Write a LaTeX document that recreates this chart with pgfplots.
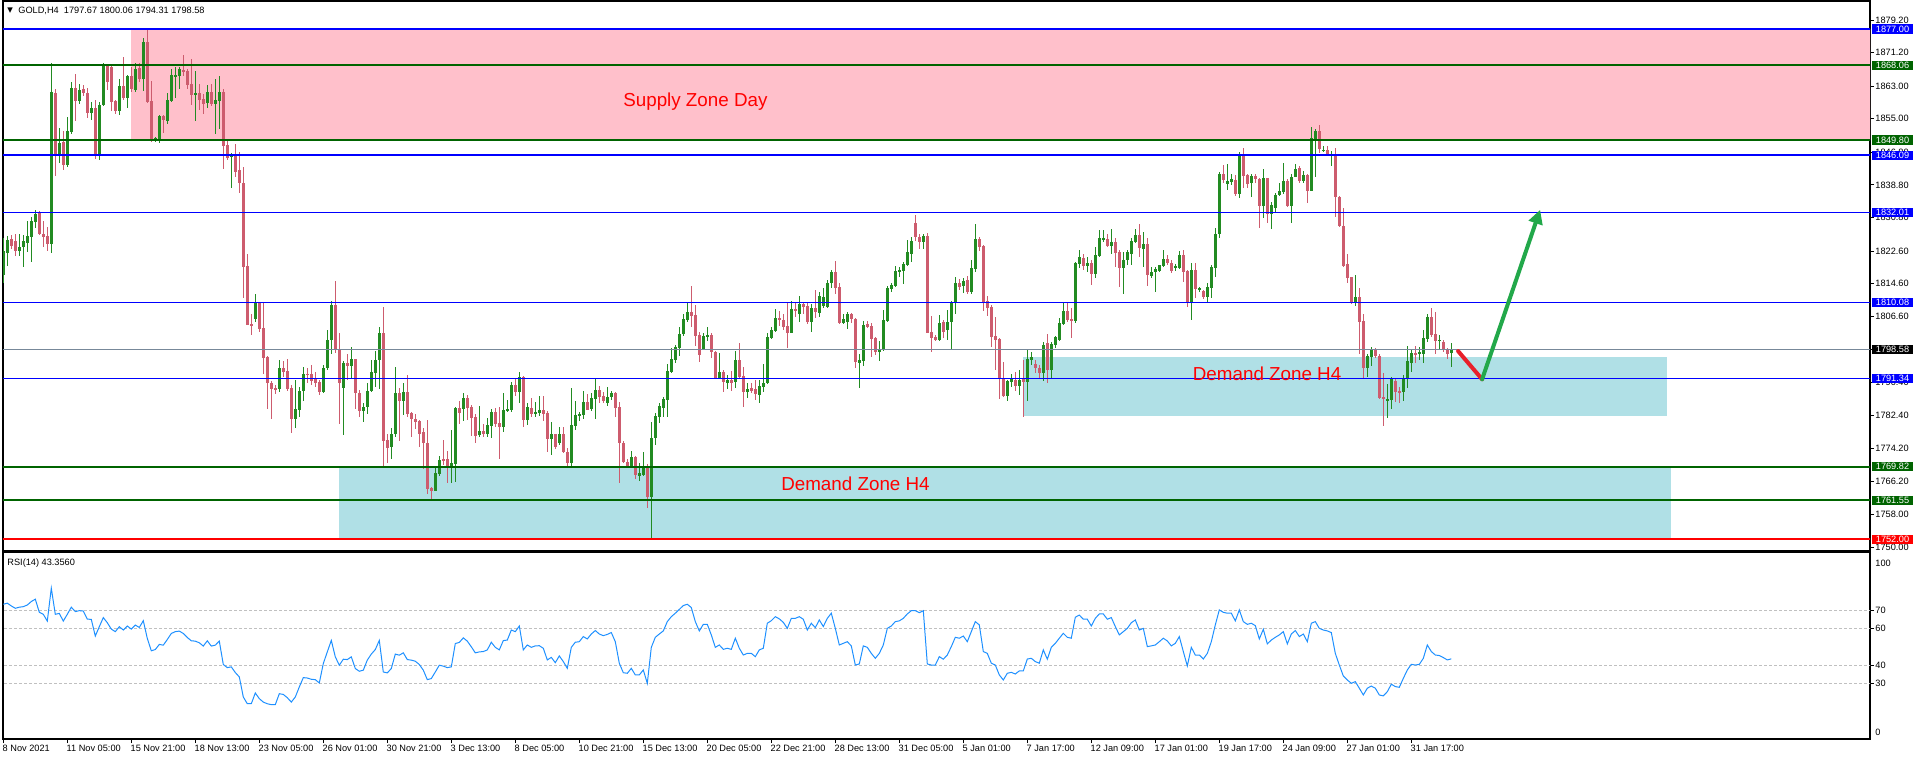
\documentclass[border=0pt]{standalone}
\usepackage{pgfplots}
\pgfplotsset{compat=1.18}
\usepackage{pgfplotstable}
\usetikzlibrary{arrows.meta}
\usepackage{fontspec}
\setmainfont{Liberation Sans}
\newfontfamily\dejavu{DejaVu Sans}
\definecolor{cgreen}{HTML}{228B22}
\definecolor{cred}{HTML}{CD5C6E}
\definecolor{zpink}{HTML}{FFC0CB}
\definecolor{zblue}{HTML}{B0E0E6}
\definecolor{lgreen}{HTML}{006400}
\definecolor{lblue}{HTML}{0000FF}
\definecolor{bidgray}{HTML}{778899}
\definecolor{rsiblue}{HTML}{1E90FF}
\definecolor{lvlgray}{HTML}{C0C0C0}
\definecolor{arrred}{HTML}{E8202A}
\definecolor{arrgreen}{HTML}{22A84A}
\newcommand{\smallfont}{\fontsize{4.6pt}{5pt}\selectfont}
\newcommand{\zonefont}{\fontsize{9.4pt}{10pt}\selectfont}
\newcommand{\pbox}[2]{\node[fill=#1, text=white, font=\smallfont, anchor=west, inner sep=0pt, minimum width=20.5pt, minimum height=4.6pt, xshift=0.8pt] at (axis cs:466.675,#2) {#2};}

\pgfplotstableread{
i o h l c r
0 1816.7 1825.7 1814.7 1822.5 73.3
1 1822.2 1826.3 1818.9 1825.3 73.9
2 1825.6 1826.5 1823.0 1823.8 72.4
3 1825.1 1826.9 1821.5 1822.7 71.1
4 1822.7 1826.9 1821.5 1823.6 71.7
5 1823.6 1826.5 1818.8 1825.1 72.0
6 1824.7 1830.1 1822.3 1826.3 72.9
7 1826.1 1831.0 1820.0 1830.0 74.8
8 1829.8 1832.7 1828.3 1831.8 76.1
9 1832.2 1832.4 1826.5 1826.9 68.9
10 1826.9 1830.1 1823.7 1826.1 67.8
11 1826.3 1828.6 1822.7 1824.4 64.1
12 1824.4 1868.7 1822.2 1861.6 82.1
13 1861.3 1862.2 1841.1 1846.5 67.8
14 1846.5 1852.7 1844.1 1849.1 68.3
15 1849.4 1852.1 1842.5 1843.7 64.1
16 1843.7 1855.4 1843.3 1852.0 67.8
17 1851.8 1864.0 1851.3 1862.5 71.7
18 1862.5 1866.0 1854.5 1859.4 69.3
19 1859.4 1863.5 1858.6 1862.1 69.8
20 1862.2 1863.2 1860.7 1861.2 69.6
21 1861.3 1862.5 1855.1 1856.5 65.2
22 1856.5 1859.2 1854.7 1857.6 65.0
23 1857.6 1859.6 1845.2 1846.1 55.9
24 1846.1 1859.1 1844.9 1858.4 61.0
25 1858.4 1868.6 1858.1 1868.0 66.0
26 1868.0 1868.4 1862.1 1864.1 63.2
27 1867.8 1868.0 1857.0 1859.2 59.7
28 1859.4 1859.6 1856.2 1857.0 58.3
29 1857.0 1864.7 1855.9 1863.0 61.0
30 1863.0 1870.2 1859.6 1860.1 59.2
31 1860.1 1865.7 1857.7 1865.5 61.4
32 1865.5 1867.8 1861.6 1862.4 59.7
33 1862.1 1868.7 1861.6 1867.2 61.9
34 1867.5 1868.6 1864.0 1864.7 60.6
35 1864.7 1874.7 1861.9 1873.8 64.3
36 1873.8 1877.0 1858.9 1859.2 54.6
37 1859.4 1864.3 1849.3 1850.0 47.8
38 1850.0 1850.6 1849.3 1850.4 48.5
39 1850.0 1856.0 1849.1 1855.7 51.3
40 1855.7 1856.0 1851.6 1854.7 50.9
41 1854.5 1861.3 1853.7 1859.6 54.0
42 1859.4 1867.2 1859.2 1865.7 57.3
43 1865.5 1867.8 1860.1 1865.7 58.3
44 1865.6 1867.8 1862.3 1867.2 58.6
45 1867.0 1870.6 1865.6 1866.5 57.3
46 1866.8 1867.1 1862.3 1863.3 55.1
47 1863.5 1869.6 1858.4 1860.8 53.3
48 1860.8 1866.7 1854.5 1861.3 53.1
49 1861.3 1863.5 1857.2 1859.6 52.2
50 1859.8 1861.1 1856.2 1858.6 50.4
51 1858.8 1863.3 1857.7 1861.6 53.3
52 1861.6 1863.5 1858.2 1858.6 50.4
53 1858.6 1864.7 1851.4 1859.6 50.9
54 1859.4 1865.5 1852.4 1861.6 53.1
55 1861.6 1862.3 1842.7 1848.4 40.3
56 1848.6 1849.6 1844.9 1845.5 38.6
57 1845.6 1846.7 1838.1 1846.1 39.0
58 1846.1 1848.8 1840.8 1842.0 35.9
59 1842.5 1846.8 1836.9 1839.3 33.5
60 1839.4 1843.2 1811.2 1818.8 22.5
61 1818.9 1821.8 1804.4 1804.6 18.8
62 1804.7 1807.3 1802.0 1804.3 18.8
63 1806.0 1812.2 1805.3 1809.8 24.7
64 1809.8 1810.0 1802.9 1803.6 21.6
65 1803.8 1809.8 1792.4 1796.5 19.7
66 1796.7 1797.0 1784.0 1790.2 18.8
67 1790.4 1790.9 1781.5 1788.8 18.3
68 1789.1 1789.8 1787.5 1788.6 18.3
69 1788.8 1795.9 1788.2 1793.9 24.3
70 1793.9 1795.8 1791.7 1793.1 23.9
71 1793.2 1796.2 1788.3 1788.8 22.1
72 1789.1 1789.8 1778.1 1781.5 19.7
73 1781.4 1791.0 1779.3 1784.0 22.5
74 1783.8 1789.4 1782.0 1788.4 28.0
75 1788.4 1794.3 1785.9 1792.6 33.1
76 1792.6 1793.9 1790.2 1792.2 32.9
77 1792.4 1794.7 1789.9 1790.9 32.2
78 1791.2 1792.9 1789.3 1790.4 32.0
79 1790.5 1791.0 1787.4 1788.2 30.2
80 1788.2 1794.7 1787.8 1793.9 40.8
81 1793.9 1803.3 1793.5 1800.8 47.2
82 1800.7 1810.4 1797.3 1809.5 53.5
83 1809.5 1815.3 1797.7 1798.4 44.5
84 1798.4 1802.6 1780.2 1790.4 39.9
85 1789.0 1795.8 1777.6 1795.1 43.2
86 1795.3 1797.3 1791.0 1794.5 43.0
87 1794.5 1799.2 1791.5 1796.2 44.5
88 1796.2 1796.2 1784.0 1787.8 38.1
89 1787.9 1788.6 1782.0 1783.5 36.6
90 1783.5 1785.3 1780.8 1784.5 37.2
91 1784.3 1790.2 1782.6 1788.4 42.7
92 1788.4 1795.9 1788.2 1793.1 46.0
93 1792.8 1798.1 1789.4 1795.9 48.5
94 1795.9 1804.1 1788.8 1802.5 53.5
95 1802.5 1808.8 1770.0 1776.2 36.2
96 1776.3 1777.9 1770.6 1774.4 35.7
97 1774.7 1779.3 1771.8 1777.9 38.1
98 1777.7 1794.3 1777.1 1787.9 46.0
99 1787.9 1789.1 1776.2 1785.9 45.4
100 1785.9 1790.4 1782.4 1788.2 46.7
101 1788.2 1792.2 1781.9 1782.6 43.0
102 1782.9 1783.3 1777.0 1781.5 42.7
103 1781.5 1782.6 1778.9 1780.8 42.1
104 1781.0 1781.2 1774.7 1777.9 40.3
105 1778.2 1779.3 1769.2 1775.7 37.2
106 1775.7 1781.2 1763.0 1764.3 32.0
107 1764.6 1764.9 1761.6 1763.8 32.6
108 1763.9 1769.4 1763.8 1768.2 36.2
109 1768.0 1772.4 1767.5 1771.4 39.9
110 1771.7 1776.3 1770.2 1771.2 39.4
111 1771.7 1773.7 1765.9 1770.0 38.6
112 1770.0 1778.8 1765.7 1770.6 39.0
113 1770.4 1784.5 1766.1 1784.1 51.8
114 1784.1 1785.9 1780.2 1782.9 52.4
115 1783.8 1787.8 1781.0 1786.7 54.9
116 1786.7 1787.3 1781.2 1784.1 53.1
117 1784.5 1784.9 1777.4 1781.8 50.0
118 1782.0 1782.6 1775.5 1777.4 46.7
119 1777.5 1784.7 1777.1 1778.5 47.2
120 1778.5 1780.2 1777.1 1777.9 47.4
121 1777.9 1781.8 1777.1 1780.0 48.3
122 1779.8 1783.9 1776.9 1783.1 52.5
123 1783.3 1784.1 1779.4 1780.2 49.7
124 1780.4 1784.5 1771.6 1779.4 48.3
125 1779.4 1787.8 1778.4 1783.7 53.4
126 1783.5 1786.1 1783.3 1783.9 53.7
127 1783.7 1790.6 1783.2 1789.8 59.2
128 1789.8 1791.2 1787.1 1788.2 58.3
129 1788.2 1793.1 1785.3 1791.8 61.4
130 1791.8 1792.0 1779.4 1781.2 48.3
131 1781.2 1785.5 1780.0 1784.5 51.0
132 1784.2 1786.7 1782.0 1782.6 49.7
133 1782.6 1785.7 1782.0 1783.3 50.5
134 1782.9 1787.2 1782.3 1783.7 50.6
135 1783.7 1787.2 1781.1 1782.6 49.2
136 1782.9 1783.5 1773.5 1776.6 42.8
137 1776.6 1780.8 1772.6 1777.8 44.2
138 1777.8 1777.9 1774.1 1774.7 41.3
139 1775.5 1779.6 1775.1 1777.8 45.0
140 1777.8 1779.6 1773.1 1773.3 41.9
141 1773.5 1774.3 1769.9 1770.6 38.2
142 1770.6 1789.0 1770.0 1780.0 49.7
143 1779.8 1786.0 1778.9 1782.4 52.5
144 1782.4 1783.3 1781.1 1782.6 52.8
145 1782.4 1788.4 1781.4 1785.7 55.6
146 1785.7 1787.5 1783.7 1783.8 54.3
147 1783.8 1787.8 1783.5 1786.7 57.0
148 1786.5 1791.4 1781.5 1788.6 58.9
149 1788.6 1789.6 1785.3 1786.9 57.0
150 1787.1 1788.1 1785.3 1786.0 56.1
151 1785.5 1789.2 1784.7 1786.9 56.8
152 1786.8 1788.4 1786.1 1787.9 57.8
153 1787.9 1788.2 1781.9 1784.2 52.8
154 1784.5 1785.7 1765.9 1775.5 41.0
155 1775.7 1776.2 1770.6 1770.9 35.8
156 1771.0 1771.6 1769.8 1770.0 35.5
157 1770.0 1773.6 1769.8 1772.2 38.2
158 1772.2 1772.4 1766.9 1767.7 34.6
159 1767.6 1770.6 1766.3 1768.2 34.6
160 1767.7 1773.3 1767.5 1769.8 37.3
161 1769.8 1770.4 1759.8 1762.4 30.0
162 1762.4 1780.8 1752.0 1776.7 49.7
163 1776.7 1782.9 1775.1 1782.2 55.2
164 1782.0 1785.3 1780.6 1784.6 57.0
165 1784.2 1786.9 1782.0 1786.4 58.7
166 1786.1 1794.9 1782.0 1793.2 63.8
167 1793.1 1798.9 1792.7 1796.2 66.5
168 1795.9 1799.6 1795.1 1799.2 68.4
169 1798.8 1804.1 1796.9 1802.3 70.5
170 1802.2 1807.1 1801.9 1806.0 72.6
171 1805.7 1809.8 1805.3 1807.6 73.3
172 1807.6 1814.1 1803.9 1806.8 71.5
173 1806.9 1809.4 1799.4 1801.9 63.8
174 1802.0 1802.7 1795.5 1797.1 58.7
175 1798.6 1802.5 1798.4 1801.8 62.3
176 1801.6 1804.1 1800.6 1802.0 62.3
177 1802.0 1802.5 1796.3 1797.8 56.5
178 1797.9 1798.1 1791.3 1791.6 49.7
179 1791.6 1797.7 1791.4 1792.9 51.0
180 1792.9 1793.5 1788.0 1790.6 48.6
181 1790.4 1792.2 1788.8 1791.0 49.2
182 1791.0 1793.3 1788.4 1790.4 48.6
183 1790.6 1798.1 1789.0 1795.9 54.7
184 1795.9 1800.2 1791.4 1791.8 49.2
185 1792.0 1794.3 1784.5 1788.2 45.5
186 1788.0 1790.2 1786.7 1788.8 46.4
187 1789.0 1790.2 1787.8 1788.4 46.4
188 1788.8 1791.0 1786.1 1787.5 44.6
189 1787.3 1791.0 1785.5 1789.5 48.3
190 1789.4 1794.9 1788.2 1790.2 49.2
191 1790.2 1802.5 1790.0 1801.5 62.9
192 1801.4 1804.1 1801.1 1803.3 64.3
193 1803.1 1808.3 1802.7 1806.3 66.5
194 1806.3 1807.9 1804.3 1805.7 65.3
195 1805.7 1807.3 1803.3 1804.1 63.4
196 1804.3 1809.8 1798.8 1802.6 60.1
197 1802.6 1810.4 1802.5 1808.4 65.6
198 1808.4 1809.8 1806.5 1808.2 65.6
199 1807.3 1811.6 1805.3 1809.6 66.5
200 1809.6 1810.2 1807.3 1809.0 65.1
201 1809.1 1810.0 1804.7 1805.3 59.2
202 1805.3 1809.6 1802.9 1808.6 62.9
203 1808.6 1813.2 1806.3 1807.6 60.5
204 1807.5 1812.7 1806.5 1811.6 64.7
205 1809.2 1813.5 1808.7 1811.4 61.1
206 1809.0 1815.5 1808.6 1814.9 65.6
207 1814.7 1818.0 1813.5 1817.6 68.4
208 1817.4 1820.2 1812.0 1813.6 60.1
209 1813.7 1814.9 1804.7 1805.1 51.0
210 1805.1 1807.2 1804.7 1806.0 51.9
211 1805.3 1807.6 1803.4 1807.2 52.8
212 1807.2 1807.5 1805.1 1805.9 50.5
213 1806.0 1806.1 1794.0 1795.5 40.0
214 1795.3 1797.5 1789.1 1795.9 40.6
215 1795.8 1805.5 1794.5 1804.5 50.5
216 1804.7 1805.5 1803.7 1804.1 49.7
217 1804.2 1805.1 1796.7 1801.1 46.4
218 1801.2 1801.6 1797.1 1797.9 43.7
219 1797.9 1800.6 1795.8 1798.5 46.4
220 1798.5 1808.3 1798.2 1805.7 51.0
221 1805.5 1814.1 1805.3 1813.6 60.1
222 1813.3 1814.9 1812.7 1814.3 61.4
223 1814.0 1818.9 1813.9 1817.8 63.8
224 1817.6 1818.8 1816.2 1818.0 64.2
225 1817.8 1820.0 1814.5 1819.4 65.6
226 1819.2 1825.3 1819.0 1822.3 68.0
227 1822.0 1826.0 1820.0 1825.1 69.8
228 1829.6 1831.4 1825.1 1826.0 69.8
229 1826.1 1826.9 1823.1 1824.9 68.7
230 1824.9 1826.9 1823.0 1826.3 69.8
231 1826.3 1827.1 1802.5 1802.5 40.6
232 1802.7 1806.8 1797.9 1801.4 40.0
233 1801.6 1802.0 1800.6 1800.8 40.0
234 1800.8 1806.9 1800.7 1805.1 44.6
235 1805.3 1805.7 1801.2 1802.9 43.2
236 1803.3 1808.2 1800.8 1805.3 45.5
237 1805.3 1810.4 1798.4 1809.8 50.1
238 1810.2 1816.2 1807.3 1814.9 55.2
239 1814.9 1815.7 1813.2 1813.9 54.7
240 1814.0 1816.1 1812.4 1815.3 55.9
241 1815.5 1816.5 1812.2 1812.5 52.8
242 1812.5 1820.4 1812.2 1818.4 58.3
243 1818.1 1829.2 1817.4 1825.5 63.8
244 1825.5 1826.1 1822.5 1823.7 62.0
245 1823.9 1824.2 1808.0 1809.8 47.4
246 1810.4 1811.7 1806.7 1808.7 46.4
247 1809.0 1809.4 1799.2 1801.6 41.0
248 1801.8 1806.5 1793.5 1800.8 40.0
249 1801.1 1801.2 1786.4 1791.3 34.6
250 1791.4 1795.5 1786.9 1787.1 31.8
251 1787.2 1791.0 1786.0 1790.8 35.5
252 1790.6 1792.4 1789.4 1791.4 36.0
253 1791.0 1793.1 1788.4 1789.6 35.1
254 1789.6 1793.6 1787.3 1791.0 36.8
255 1791.2 1795.9 1782.0 1790.6 36.8
256 1790.6 1798.6 1786.0 1796.2 43.3
257 1795.9 1797.9 1794.7 1796.6 43.7
258 1794.9 1795.9 1792.7 1793.9 41.9
259 1793.9 1794.7 1791.2 1792.8 41.0
260 1792.8 1800.4 1790.8 1799.6 48.3
261 1800.0 1802.3 1790.2 1793.5 43.2
262 1793.5 1800.4 1791.3 1799.8 49.7
263 1799.6 1801.9 1798.8 1801.5 51.9
264 1800.8 1806.1 1800.7 1804.9 54.7
265 1804.7 1809.8 1804.5 1807.9 57.4
266 1807.9 1810.0 1805.3 1805.7 55.2
267 1805.9 1808.6 1801.4 1805.5 54.7
268 1805.5 1820.0 1804.9 1819.6 66.2
269 1819.4 1822.9 1818.4 1821.1 67.4
270 1821.0 1822.0 1818.0 1819.0 65.1
271 1819.0 1821.2 1817.6 1819.8 65.1
272 1819.8 1820.4 1814.3 1817.0 61.4
273 1817.0 1823.7 1815.9 1821.6 65.6
274 1821.5 1827.8 1821.2 1825.7 68.0
275 1825.5 1827.8 1824.9 1825.7 68.0
276 1825.6 1826.9 1823.7 1823.9 65.1
277 1823.9 1827.9 1822.0 1824.9 66.0
278 1824.9 1825.7 1818.6 1822.2 61.1
279 1822.3 1822.9 1813.9 1818.4 56.5
280 1818.4 1822.5 1812.2 1820.4 58.3
281 1820.4 1822.9 1819.2 1822.3 60.1
282 1822.0 1825.7 1819.2 1825.1 63.2
283 1824.9 1827.9 1824.7 1826.5 64.7
284 1826.5 1829.2 1821.1 1823.3 59.2
285 1823.1 1827.4 1818.8 1824.3 60.1
286 1824.3 1825.7 1814.1 1816.7 50.1
287 1816.6 1818.6 1815.9 1817.6 50.5
288 1817.4 1818.8 1812.7 1818.1 51.0
289 1817.8 1819.2 1817.6 1819.2 52.8
290 1818.9 1822.9 1818.8 1820.6 54.7
291 1820.6 1821.6 1819.2 1819.8 53.2
292 1819.8 1820.4 1817.3 1817.8 50.5
293 1818.4 1819.4 1817.8 1819.0 51.9
294 1818.4 1822.5 1818.1 1821.6 55.6
295 1821.6 1822.9 1815.1 1817.6 47.4
296 1817.7 1818.0 1808.8 1809.8 39.5
297 1809.8 1819.8 1805.6 1818.0 49.7
298 1818.0 1819.8 1811.0 1813.2 45.5
299 1813.2 1813.9 1812.7 1813.5 45.5
300 1812.9 1813.1 1810.9 1811.3 43.3
301 1811.4 1814.7 1809.8 1813.9 46.4
302 1813.6 1819.2 1811.0 1818.6 52.8
303 1818.5 1828.2 1816.3 1826.9 62.0
304 1826.8 1842.0 1825.7 1841.6 70.2
305 1841.6 1843.7 1839.2 1840.0 68.9
306 1839.0 1843.9 1837.6 1839.8 68.4
307 1839.6 1841.6 1838.8 1840.3 68.4
308 1840.0 1841.2 1836.2 1836.7 64.2
309 1836.7 1846.9 1835.7 1846.5 70.2
310 1846.5 1847.8 1838.0 1841.1 63.8
311 1841.2 1841.6 1838.0 1839.0 62.3
312 1839.4 1841.5 1835.9 1841.1 62.9
313 1841.1 1841.5 1839.2 1840.2 61.6
314 1840.3 1840.4 1828.2 1833.7 54.3
315 1833.7 1842.7 1830.6 1840.4 59.6
316 1840.4 1840.6 1829.6 1831.8 51.6
317 1831.8 1834.7 1828.0 1833.9 53.7
318 1833.1 1836.9 1832.0 1836.3 55.2
319 1836.3 1839.2 1836.2 1837.3 56.5
320 1837.2 1844.1 1836.7 1839.8 58.3
321 1839.8 1840.2 1833.5 1833.7 51.6
322 1833.7 1841.5 1829.4 1840.8 57.0
323 1840.8 1843.9 1840.7 1842.7 58.9
324 1843.0 1843.4 1839.4 1839.8 55.6
325 1839.8 1842.2 1839.4 1841.2 57.0
326 1841.2 1841.4 1834.5 1837.4 52.8
327 1837.4 1852.9 1837.2 1850.2 62.9
328 1850.0 1852.5 1840.8 1852.0 63.8
329 1852.0 1853.6 1846.7 1847.6 60.1
330 1847.1 1848.3 1846.9 1847.4 59.2
331 1847.4 1848.4 1846.1 1846.4 58.7
332 1846.1 1847.1 1843.5 1846.5 57.8
333 1846.5 1847.8 1831.0 1835.8 46.4
334 1835.9 1836.1 1828.6 1828.8 40.0
335 1828.8 1833.1 1818.8 1819.0 34.0
336 1819.4 1821.8 1814.7 1816.1 31.8
337 1816.2 1816.3 1809.6 1810.2 30.0
338 1810.2 1816.7 1809.2 1811.4 30.9
339 1811.4 1813.5 1797.3 1805.3 27.3
340 1805.5 1807.3 1791.3 1793.9 23.6
341 1793.9 1797.5 1791.8 1797.0 27.3
342 1796.7 1799.0 1794.5 1798.4 28.5
343 1798.4 1798.8 1796.3 1796.9 27.3
344 1797.0 1797.3 1786.4 1786.5 23.6
345 1786.8 1792.7 1779.8 1786.3 23.1
346 1786.1 1790.0 1781.6 1786.4 25.4
347 1786.1 1791.8 1783.9 1791.2 29.5
348 1790.9 1791.3 1785.7 1788.2 28.2
349 1788.4 1789.2 1785.3 1788.0 27.8
350 1788.2 1792.2 1785.9 1791.4 32.7
351 1791.4 1799.3 1789.1 1795.8 37.3
352 1795.3 1798.6 1792.9 1797.7 40.4
353 1797.7 1799.4 1795.1 1797.1 40.0
354 1797.3 1799.2 1795.9 1797.8 40.4
355 1797.5 1803.3 1795.3 1801.2 43.7
356 1801.0 1807.2 1800.4 1806.5 51.0
357 1806.5 1808.6 1801.6 1802.0 47.4
358 1802.2 1807.6 1797.5 1800.6 45.5
359 1800.7 1802.0 1798.4 1800.8 45.2
360 1800.4 1800.8 1797.9 1798.4 44.1
361 1798.4 1798.9 1796.3 1797.5 42.8
362 1797.7 1800.1 1794.3 1798.6 43.4
}\gold

\begin{document}
\begin{tikzpicture}[x=1pt,y=1pt]
\useasboundingbox (0,0) rectangle (958,380);
\begin{axis}[
  at={(1.5pt,104.5pt)}, anchor=south west,
  width=933.5pt, height=275pt, scale only axis,
  xmin=-0.075, xmax=466.675, ymin=1749.14, ymax=1883.86,
  clip mode=individual,
  axis line style={line width=0.6pt},
  xtick=\empty,
  ytick={1750,1758,1766.2,1774.2,1782.4,1790.4,1798.4,1806.6,1814.6,1822.6,1830.8,1838.8,1846.8,1855,1863,1871.2,1879.2},
  yticklabels={1750.00,1758.00,1766.20,1774.20,1782.40,1790.40,1798.40,1806.60,1814.60,1822.60,1830.80,1838.80,1846.80,1855.00,1863.00,1871.20,1879.20},
  ytick pos=right, yticklabel pos=right,
  tick align=outside, major tick length=2pt,
  tick style={line width=0.5pt, black},
  yticklabel style={font=\smallfont, anchor=west, inner sep=0pt, xshift=0.5pt},
]
% zones
\addplot[fill=zpink, draw=none] coordinates {(31.9,1849.8) (467,1849.8) (467,1877) (31.9,1877)} -- cycle;
\addplot[fill=zblue, draw=none] coordinates {(83.9,1752) (416.8,1752) (416.8,1769.82) (83.9,1769.82)} -- cycle;
\addplot[fill=zblue, draw=none] coordinates {(255.0,1782.2) (415.8,1782.2) (415.8,1796.66) (255.0,1796.66)} -- cycle;
% wicks
\addplot[draw=none, restrict expr to domain={\thisrow{c}-\thisrow{o}}{0:1000},
  error bars/.cd, y dir=both, y explicit, error mark=none,
  error bar style={line width=0.5pt, draw=cgreen}]
  table[x=i, y expr={(\thisrow{h}+\thisrow{l})/2}, y error expr={(\thisrow{h}-\thisrow{l})/2}] {\gold};
\addplot[draw=none, restrict expr to domain={\thisrow{c}-\thisrow{o}}{-1000:-0.001},
  error bars/.cd, y dir=both, y explicit, error mark=none,
  error bar style={line width=0.5pt, draw=cred}]
  table[x=i, y expr={(\thisrow{h}+\thisrow{l})/2}, y error expr={(\thisrow{h}-\thisrow{l})/2}] {\gold};
% bodies
\addplot[draw=none, restrict expr to domain={\thisrow{c}-\thisrow{o}}{0:1000},
  error bars/.cd, y dir=both, y explicit, error mark=none,
  error bar style={line width=1.5pt, draw=cgreen}]
  table[x=i, y expr={(\thisrow{o}+\thisrow{c})/2}, y error expr={max(abs(\thisrow{c}-\thisrow{o})/2,0.12)}] {\gold};
\addplot[draw=none, restrict expr to domain={\thisrow{c}-\thisrow{o}}{-1000:-0.001},
  error bars/.cd, y dir=both, y explicit, error mark=none,
  error bar style={line width=1.5pt, draw=cred}]
  table[x=i, y expr={(\thisrow{o}+\thisrow{c})/2}, y error expr={max(abs(\thisrow{c}-\thisrow{o})/2,0.12)}] {\gold};
% level lines
\addplot[lblue, line width=1pt] coordinates {(-1,1877) (470,1877)};
\addplot[lgreen, line width=1pt] coordinates {(-1,1868.06) (470,1868.06)};
\addplot[lgreen, line width=1pt] coordinates {(-1,1849.80) (470,1849.80)};
\addplot[lblue, line width=1pt] coordinates {(-1,1846.09) (470,1846.09)};
\addplot[lblue, line width=0.5pt] coordinates {(-1,1832.01) (470,1832.01)};
\addplot[lblue, line width=0.5pt] coordinates {(-1,1810.08) (470,1810.08)};
\addplot[bidgray, line width=0.5pt] coordinates {(-1,1798.58) (470,1798.58)};
\addplot[lblue, line width=0.5pt] coordinates {(-1,1791.34) (470,1791.34)};
\addplot[lgreen, line width=1pt] coordinates {(-1,1769.82) (470,1769.82)};
\addplot[lgreen, line width=1pt] coordinates {(-1,1761.55) (470,1761.55)};
\addplot[red, line width=1pt] coordinates {(-1,1752.00) (470,1752.00)};
% arrows
\draw[arrred, line width=2pt, line cap=round] (axis cs:363.7,1798.1) -- (axis cs:369.7,1791.2);
\draw[arrgreen, line width=2pt, line cap=round, -{Triangle[width=7pt,length=7pt]}] (axis cs:369.7,1791.2) -- (axis cs:384.2,1832.7);
% zone texts
\node[anchor=west, inner sep=0pt, text=red, font=\zonefont] at (axis cs:154.9,1859.2) {Supply Zone Day};
\node[anchor=west, inner sep=0pt, text=red, font=\zonefont] at (axis cs:194.4,1765.7) {Demand Zone H4};
\node[anchor=west, inner sep=0pt, text=red, font=\zonefont] at (axis cs:297.3,1792.6) {Demand Zone H4};
% title
\node[anchor=center, inner sep=0pt, font=\dejavu\fontsize{3.6pt}{4pt}\selectfont] at (axis cs:1.7,1881.6) {▼};
\node[anchor=west, inner sep=0pt, font=\smallfont] at (axis cs:3.68,1881.5) {GOLD,H4\ \ 1797.67 1800.06 1794.31 1798.58};
% price boxes
\pbox{lblue}{1877.00}
\pbox{lgreen}{1868.06}
\pbox{lgreen}{1849.80}
\pbox{lblue}{1846.09}
\pbox{lblue}{1832.01}
\pbox{lblue}{1810.08}
\pbox{black}{1798.58}
\pbox{lblue}{1791.34}
\pbox{lgreen}{1769.82}
\pbox{lgreen}{1761.55}
\pbox{red}{1752.00}
\end{axis}

\begin{axis}[
  at={(1.5pt,10.5pt)}, anchor=south west,
  width=933.5pt, height=93.15pt, scale only axis,
  xmin=-0.075, xmax=466.675, ymin=-0.52, ymax=101.56,
  clip mode=individual,
  axis line style={line width=0.6pt},
  xtick={0,16,...,352},
  xticklabels={8 Nov 2021,11 Nov 05:00,15 Nov 21:00,18 Nov 13:00,23 Nov 05:00,26 Nov 01:00,30 Nov 21:00,3 Dec 13:00,8 Dec 05:00,10 Dec 21:00,15 Dec 13:00,20 Dec 05:00,22 Dec 21:00,28 Dec 13:00,31 Dec 05:00,5 Jan 01:00,7 Jan 17:00,12 Jan 09:00,17 Jan 01:00,19 Jan 17:00,24 Jan 09:00,27 Jan 01:00,31 Jan 17:00},
  xtick pos=bottom,
  ytick={30,40,60,70}, yticklabels={30,40,60,70},
  ytick pos=right, yticklabel pos=right,
  tick align=outside, major tick length=2pt,
  tick style={line width=0.5pt, black},
  xticklabel style={font=\smallfont, anchor=north west, inner sep=0pt, xshift=-0.5pt, yshift=-1pt},
  yticklabel style={font=\smallfont, anchor=west, inner sep=0pt, xshift=0.5pt},
]
\addplot[lvlgray, line width=0.5pt, dash pattern=on 1.4pt off 1.1pt] coordinates {(-1,70) (470,70)};
\addplot[lvlgray, line width=0.5pt, dash pattern=on 1.4pt off 1.1pt] coordinates {(-1,60) (470,60)};
\addplot[lvlgray, line width=0.5pt, dash pattern=on 1.4pt off 1.1pt] coordinates {(-1,40) (470,40)};
\addplot[lvlgray, line width=0.5pt, dash pattern=on 1.4pt off 1.1pt] coordinates {(-1,30) (470,30)};
\addplot[rsiblue, line width=0.5pt] table[x=i, y=r] {\gold};
\node[anchor=west, inner sep=0pt, font=\smallfont] at (axis cs:0.93,96.1) {RSI(14) 43.3560};
\node[anchor=west, inner sep=0pt, font=\smallfont, xshift=2.5pt] at (axis cs:466.675,95.7) {100};
\node[anchor=west, inner sep=0pt, font=\smallfont, xshift=2.5pt] at (axis cs:466.675,3.4) {0};
\end{axis}
\end{tikzpicture}
\end{document}
